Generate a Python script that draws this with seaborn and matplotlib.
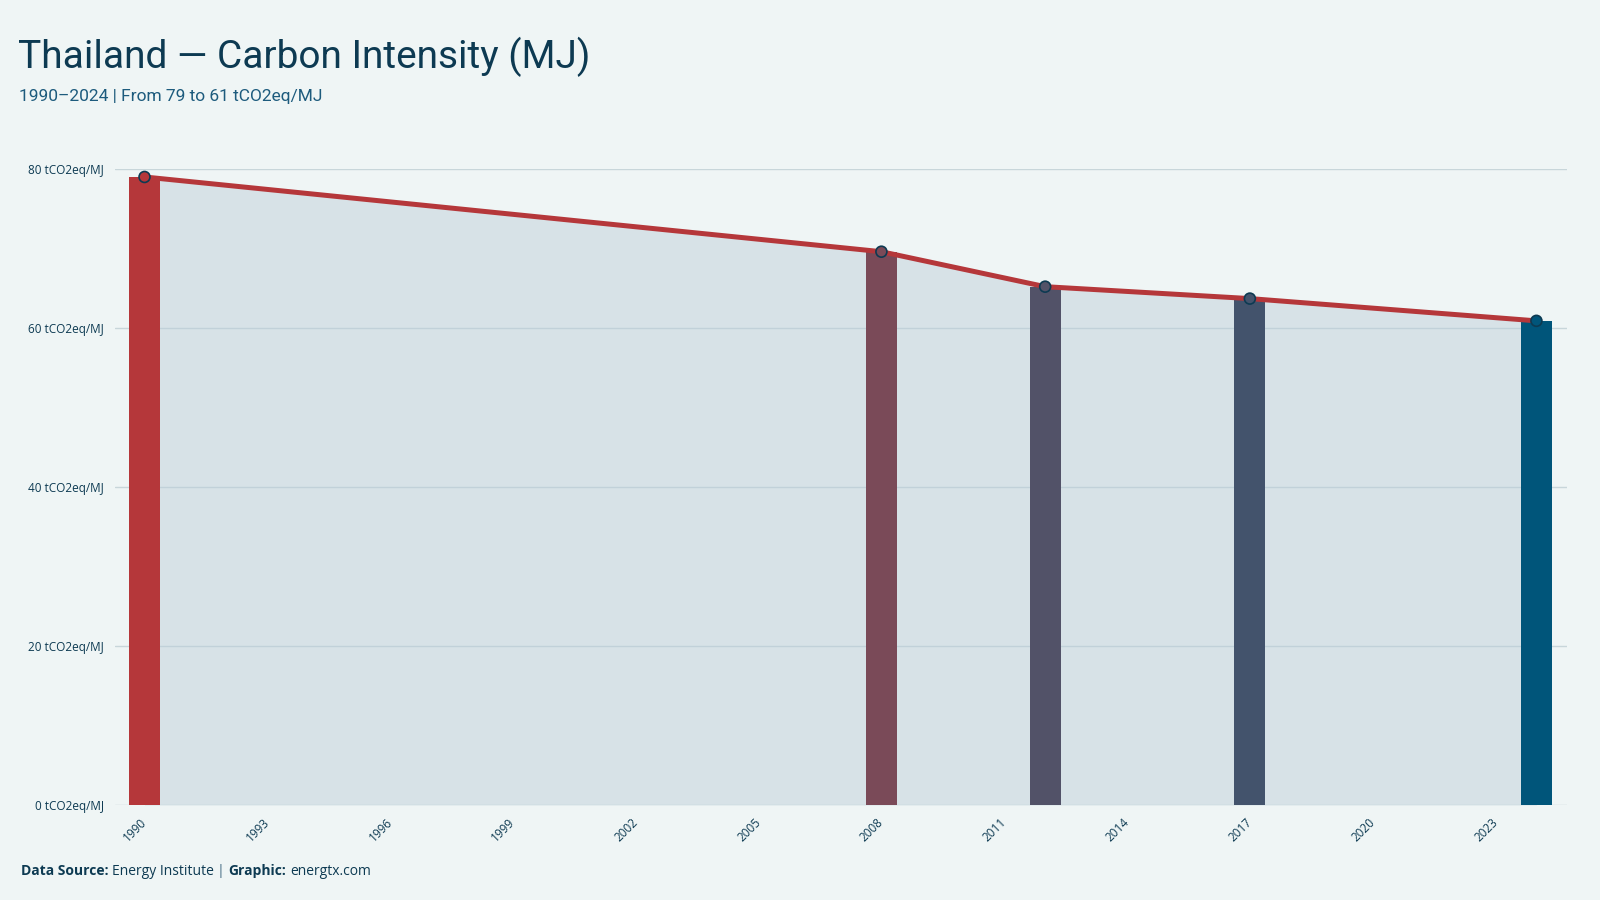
import numpy as np
import pandas as pd
import matplotlib
matplotlib.use("Agg")
import matplotlib.pyplot as plt
from matplotlib import font_manager
import seaborn as sns

# data
years = [1990, 2008, 2012, 2017, 2024]
intensity = [79.0, 69.6, 65.2, 63.7, 60.9]
bar_colors = ["#b5373a", "#7a4a58", "#525268", "#43536c", "#00557a"]
x_ticks = list(range(1990, 2024, 3))
y_ticks = [0, 20, 40, 60, 80]
y_tick_labels = [f"{v} tCO2eq/MJ" for v in y_ticks]

title = "Thailand — Carbon Intensity (MJ)"
subtitle = "1990–2024 | From 79 to 61 tCO2eq/MJ"
caption_parts = [
    ("Data Source:", "bold", "#0d3a52"),
    ("Energy Institute", "normal", "#0d3a52"),
    ("|", "bold", "#7f9aaa"),
    ("Graphic:", "bold", "#0d3a52"),
    ("energtx.com", "normal", "#0d3a52"),
]

BG = "#eff5f5"
NAVY = "#0d3a52"
SUB = "#1d5b7d"
LINE = "#b5373a"

sns.set_theme(style="white")
installed = {f.name for f in font_manager.fontManager.ttflist}
body_font = ["Open Sans", "DejaVu Sans"]
if "Liberation Sans Narrow" in installed:
    head_font = ["Liberation Sans Narrow", "DejaVu Sans"]
    title_size, sub_size = 34, 15
else:
    head_font = ["Roboto", "DejaVu Sans"]
    title_size, sub_size = 28, 12.5
plt.rcParams["font.family"] = body_font

df = pd.DataFrame({"year": years, "value": intensity,
                   "label": [str(y) for y in years]})
palette = dict(zip(df["label"], bar_colors))

fig = plt.figure(figsize=(16, 9), dpi=100, facecolor=BG)
ax = fig.add_axes([0.0719, 0.1056, 0.9073, 0.7066])
ax.set_facecolor(BG)

ax.fill_between(df["year"], df["value"], 0, color="#bacdd8", alpha=0.45,
                linewidth=0, zorder=1)

sns.barplot(data=df, x="year", y="value", hue="label", palette=palette,
            native_scale=True, width=0.19, dodge=False, legend=False,
            saturation=1, errorbar=None, linewidth=0, ax=ax, zorder=2)

sns.lineplot(data=df, x="year", y="value", color=LINE, lw=3.6, ax=ax,
             zorder=3)

sns.scatterplot(data=df, x="year", y="value", hue="label", palette=palette,
                s=62, edgecolor=NAVY, linewidth=1.2, legend=False, ax=ax,
                zorder=4)

ax.set_xlim(1989.28, 2024.74)
ax.set_ylim(0, 80)
ax.set_xticks(x_ticks)
ax.set_xticklabels([str(t) for t in x_ticks], rotation=45, ha="right",
                   va="center", rotation_mode="anchor",
                   fontsize=8.5, color=NAVY)
ax.set_yticks(y_ticks)
ax.set_yticklabels(y_tick_labels, fontsize=8.5, color=NAVY)
ax.tick_params(axis="both", length=0)
ax.tick_params(axis="y", pad=8)
ax.tick_params(axis="x", pad=11)
ax.set_xlabel("")
ax.set_ylabel("")
ax.yaxis.grid(True, color="#c8d6da", lw=1)
ax.xaxis.grid(False)
ax.set_axisbelow(True)
for s in ax.spines.values():
    s.set_visible(False)

fig.text(18 / 1600, 1 - 68 / 900, title, family=head_font,
         fontsize=title_size, color=NAVY, va="baseline")
fig.text(19 / 1600, 1 - 101 / 900, subtitle, family=head_font,
         fontsize=sub_size, color=SUB, va="baseline")

# caption, pieces placed one after another
fig.canvas.draw()
r = fig.canvas.get_renderer()
x = 21
for txt, weight, color in caption_parts:
    t = fig.text(x / 1600, 1 - 875 / 900, txt, fontsize=10,
                 fontweight=weight, color=color, va="baseline")
    x += t.get_window_extent(renderer=r).width + 3.5

fig.savefig("out.png", dpi=100, facecolor=BG)
